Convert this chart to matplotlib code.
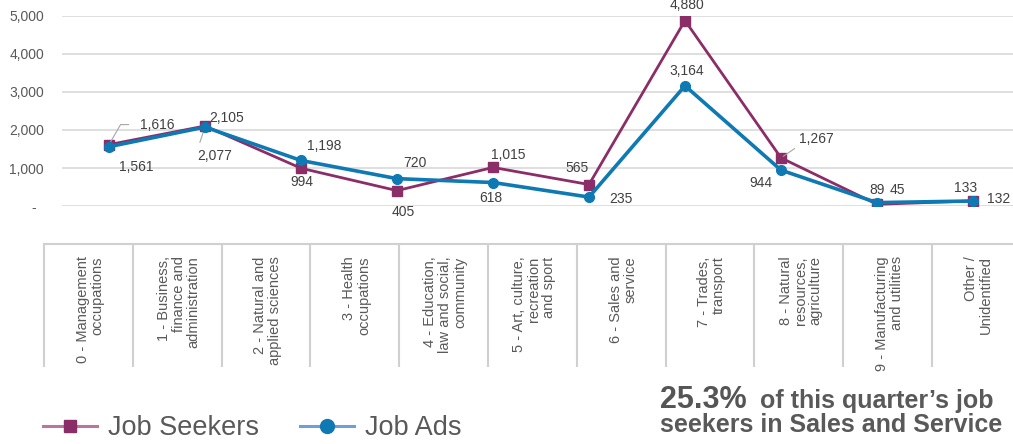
import matplotlib
matplotlib.use("Agg")
import matplotlib.pyplot as plt
from matplotlib.lines import Line2D
from matplotlib.ticker import FuncFormatter

plt.rcParams['font.family'] = ['Liberation Sans', 'DejaVu Sans']

# data
seekers = [1616, 2105, 994, 405, 1015, 565, 4880, 1267, 45, 133]
job_ads = [1561, 2077, 1198, 720, 618, 235, 3164, 944, 89, 132]

categories = [
    "0 - Management\noccupations",
    "1 - Business,\nfinance and\nadministration",
    "2 - Natural and\napplied sciences",
    "3 - Health\noccupations",
    "4 - Education,\nlaw and social,\ncommunity",
    "5 - Art, culture,\nrecreation\nand sport",
    "6 - Sales and\nservice",
    "7 - Trades,\ntransport",
    "8 - Natural\nresources,\nagriculture",
    "9 - Manufacturing\nand utilities",
    "Other /\nUnidentified",
]

# label offsets in pixels (dx, dy) for each point
seeker_off = [(48, 20), (22, 8), (1, -14), (6, -21), (15, 12),
              (-12, 17), (2, 16), (35, 19), (20, 14), (-7, 13)]
ads_off = [(27, -20), (10, -29), (23, 14), (18, 16), (-2, -15),
           (32, -2), (2, 15), (-20, -13), (0, 13), (26, 2)]

purple = '#8B2D66'
blue = '#0E79B2'
grey_txt = '#595959'
lbl_col = '#404040'

W, H = 1013, 444
fig = plt.figure(figsize=(W / 100, H / 100), dpi=100)

# line chart
ax = fig.add_axes([62 / W, 1 - 206 / H, (W - 62) / W, 190 / H])
x = list(range(len(seekers)))
ax.plot(x, seekers, color=purple, lw=2.0, marker='s', ms=6.5, zorder=3)
ax.plot(x, job_ads, color=blue, lw=2.6, marker='o', ms=7, zorder=4)
ax.set_xlim(-0.49, 9.417)
ax.set_ylim(0, 5000)
ax.set_yticks(range(0, 5001, 1000))
ax.yaxis.set_major_formatter(FuncFormatter(lambda v, p: f"{int(v):,}" if v else "-  "))
ax.tick_params(axis='y', length=0, pad=13, labelsize=10, labelcolor=grey_txt)
ax.set_xticks([])
ax.grid(axis='y', color='#D9D9D9', lw=1.2)
ax.set_axisbelow(True)
for s in ax.spines.values():
    s.set_visible(False)

def fmt(v):
    return f"{v:,}"

for i, v in enumerate(seekers):
    dx, dy = seeker_off[i]
    kw = {}
    if i == 0:
        kw = dict(arrowprops=dict(arrowstyle='-', color='#A6A6A6', lw=0.8,
                                  shrinkA=6, shrinkB=2,
                                  connectionstyle='angle,angleA=0,angleB=60,rad=0',
                                  relpos=(0, 0.5)))
    if i == 7:
        kw = dict(arrowprops=dict(arrowstyle='-', color='#A6A6A6', lw=0.8,
                                  shrinkA=1, shrinkB=2, relpos=(0, 0)))
    ax.annotate(fmt(v), (i, v), xytext=(dx, dy), textcoords='offset pixels',
                ha='center', va='center', fontsize=10, color=lbl_col,
                annotation_clip=False, **kw)

for i, v in enumerate(job_ads):
    dx, dy = ads_off[i]
    kw = {}
    if i == 1:
        kw = dict(arrowprops=dict(arrowstyle='-', color='#A6A6A6', lw=0.8,
                                  shrinkA=3, shrinkB=2, relpos=(0, 1)))
    ax.annotate(fmt(v), (i, v), xytext=(dx, dy), textcoords='offset pixels',
                ha='center', va='center', fontsize=10, color=lbl_col,
                annotation_clip=False, **kw)

# category table below the chart
cw = 88.8
tab = fig.add_axes([44 / W, 1 - 367 / H, cw * len(categories) / W, (367 - 244) / H])
tab.set_xlim(0, len(categories))
tab.set_ylim(0, 1)
tab.axis('off')
tab.axhline(1, color='#D0D0D0', lw=1.5, clip_on=False)
tab.vlines(range(len(categories) + 1), 0, 1, color='#D0D0D0', lw=1.5, clip_on=False)
for i, c in enumerate(categories):
    tab.text(i + 0.52, 0.9, c, rotation=90, ha='center', va='top',
             multialignment='right', fontsize=10.5, color=grey_txt,
             linespacing=1.08, clip_on=False)

# legend
handles = [
    Line2D([], [], color='#B8789E', lw=2.2, marker='s', ms=9,
           markerfacecolor=purple, markeredgecolor=purple),
    Line2D([], [], color='#6F9FD3', lw=2.2, marker='o', ms=10,
           markerfacecolor=blue, markeredgecolor=blue),
]
fig.legend(handles, ['Job Seekers', 'Job Ads'],
           loc='center left', bbox_to_anchor=(43 / W, 16 / H), ncol=2,
           frameon=False, fontsize=19.5, handlelength=2.0,
           handletextpad=0.4, columnspacing=1.5, borderpad=0,
           borderaxespad=0, labelcolor=grey_txt)

# callout text
fig.text(660 / W, 1 - 408 / H, "25.3%", fontsize=22, fontweight='bold',
         color='#555555', va='baseline')
fig.text(760 / W, 1 - 408 / H, "of this quarter\u2019s job", fontsize=18,
         fontweight='bold', color=grey_txt, va='baseline')
fig.text(660 / W, 1 - 432 / H, "seekers in Sales and Service", fontsize=18,
         fontweight='bold', color=grey_txt, va='baseline')

fig.savefig("out.png", dpi=100)
